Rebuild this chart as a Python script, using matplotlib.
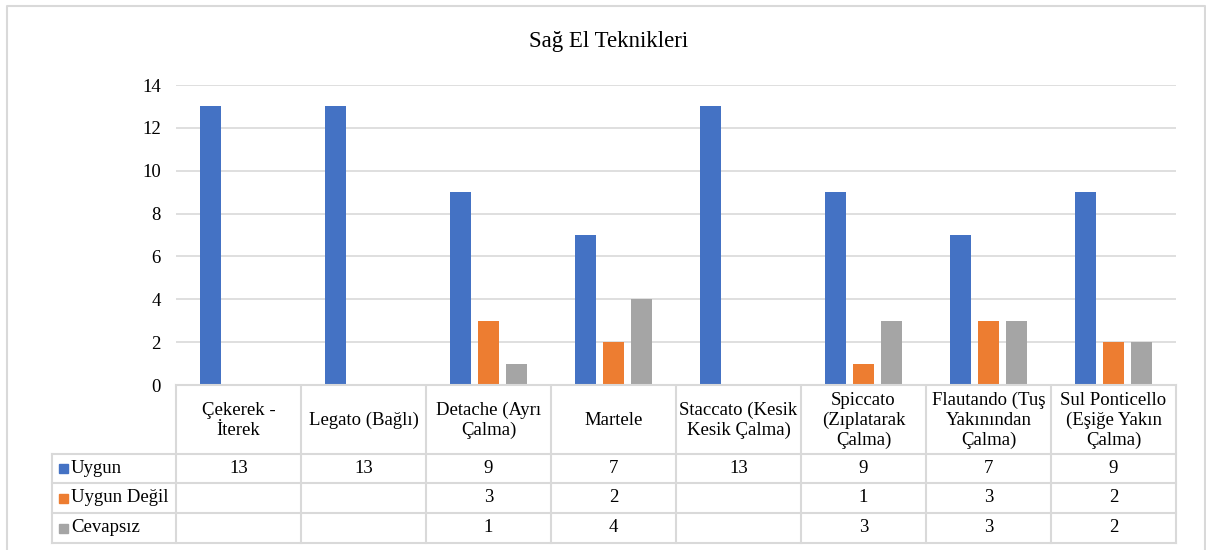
import matplotlib.pyplot as plt
import numpy as np

plt.rcParams['font.family'] = ['Liberation Serif', 'DejaVu Serif']

categories = ["Çekerek -\nİterek", "Legato (Bağlı)", "Detache (Ayrı\nÇalma)", "Martele",
              "Staccato (Kesik\nKesik Çalma)", "Spiccato\n(Zıplatarak\nÇalma)",
              "Flautando (Tuş\nYakınından\nÇalma)", "Sul Ponticello\n(Eşiğe Yakın\nÇalma)"]
series_names = ["Uygun", "Uygun Değil", "Cevapsız"]
uygun = [13, 13, 9, 7, 13, 9, 7, 9]
uygun_degil = [None, None, 3, 2, None, 1, 3, 2]
cevapsiz = [None, None, 1, 4, None, 3, 3, 2]
colors = ["#4472C4", "#ED7D31", "#A5A5A5"]

W, H = 1206, 550
fs = 13.5
fig = plt.figure(figsize=(W / 100, H / 100), dpi=100)

# pixel layout
plot_l, plot_r = 176, 1176
plot_t, plot_b = 85, 385
col_w = (plot_r - plot_l) / len(categories)
row_y = [385, 454, 483, 513, 543]
lab_l = 52
grid_c = "#D9D9D9"

# canvas axes in pixel coordinates
cv = fig.add_axes([0, 0, 1, 1])
cv.set_xlim(0, W)
cv.set_ylim(H, 0)
cv.axis('off')
cv.plot([7, 7, 1205, 1205], [H + 5, 6, 6, H + 5], color=grid_c, lw=1.5)
cv.text(W / 2 + 6, 42, "Sağ El Teknikleri", ha='center', va='center', fontsize=16.5)

# chart
ax = fig.add_axes([plot_l / W, 1 - plot_b / H, (plot_r - plot_l) / W, (plot_b - plot_t) / H])
ax.set_xlim(0, len(categories))
ax.set_ylim(0, 14)
ax.set_yticks(range(0, 15, 2))
ax.set_xticks([])
ax.grid(axis='y', color=grid_c, lw=1.2)
ax.set_axisbelow(True)
for s in ['top', 'right', 'left']:
    ax.spines[s].set_visible(False)
ax.spines['bottom'].set_color(grid_c)
ax.spines['bottom'].set_linewidth(1.5)
ax.tick_params(axis='y', length=0, pad=11, labelsize=fs)

x = np.arange(len(categories)) + 0.5
bw = 0.174
off = 0.224
for k, vals in enumerate([uygun, uygun_degil, cevapsiz]):
    xs = [x[i] + (k - 1) * off for i, v in enumerate(vals) if v is not None]
    hs = [v for v in vals if v is not None]
    ax.bar(xs, hs, width=bw, color=colors[k])

# data table
for i in range(len(categories) + 1):
    xx = plot_l + i * col_w
    cv.plot([xx, xx], [row_y[0], row_y[-1]], color=grid_c, lw=1.5)
cv.plot([lab_l, lab_l], [row_y[1], row_y[-1]], color=grid_c, lw=1.5)
for j in range(1, len(row_y)):
    cv.plot([lab_l, plot_r], [row_y[j], row_y[j]], color=grid_c, lw=1.5)

for i, c in enumerate(categories):
    cv.text(plot_l + (i + 0.5) * col_w, (row_y[0] + row_y[1]) / 2 + 1, c,
            ha='center', va='center', fontsize=fs, linespacing=1.22)

for k, vals in enumerate([uygun, uygun_degil, cevapsiz]):
    yc = (row_y[k + 1] + row_y[k + 2]) / 2
    cv.add_patch(plt.Rectangle((59, yc - 4.5), 9, 9, color=colors[k]))
    cv.text(71, yc, series_names[k], ha='left', va='center', fontsize=fs)
    for i, v in enumerate(vals):
        if v is not None:
            cv.text(plot_l + (i + 0.5) * col_w, yc, str(v), ha='center', va='center', fontsize=fs)

fig.savefig("out.png", dpi=100)
